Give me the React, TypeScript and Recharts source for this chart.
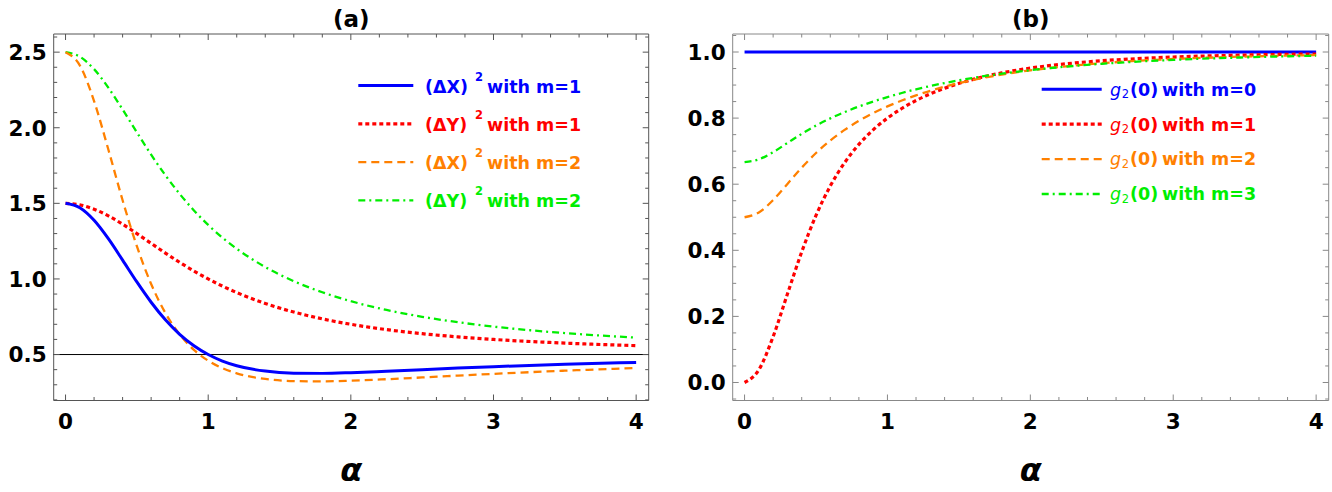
import React from 'react';
import { LineChart, Line, XAxis, YAxis, ReferenceLine, ReferenceArea, Legend } from 'recharts';

// Coherent amplitude alpha (shared horizontal axis of both panels)
const alpha = [0, 0.1, 0.2, 0.3, 0.4, 0.5, 0.6, 0.7, 0.8, 0.9, 1.0, 1.1, 1.2, 1.4, 1.6, 1.8, 2.0, 2.25, 2.5, 2.75, 3.0, 3.5, 4.0];

// Panel (a): quadrature variances
const dX1 = [1.5, 1.4705, 1.3876, 1.2659, 1.1243, 0.98, 0.846, 0.7297, 0.6338, 0.558, 0.5, 0.457, 0.4261, 0.3904, 0.3769, 0.3754, 0.38, 0.3895, 0.4001, 0.4105, 0.42, 0.4359, 0.4481];
const dY1 = [1.5, 1.4901, 1.4615, 1.4174, 1.3621, 1.3, 1.2353, 1.1711, 1.1098, 1.0525, 1.0, 0.9525, 0.9098, 0.8378, 0.7809, 0.7358, 0.7, 0.6649, 0.6379, 0.6168, 0.6, 0.5755, 0.5588];
const dX2 = [2.5, 2.4124, 2.1765, 1.8563, 1.5203, 1.2164, 0.9668, 0.7746, 0.6327, 0.5309, 0.4592, 0.4095, 0.3756, 0.3383, 0.3244, 0.3226, 0.327, 0.3367, 0.3484, 0.3605, 0.3722, 0.3932, 0.4106];
const dY2 = [2.5, 2.4705, 2.3875, 2.2651, 2.1207, 1.9694, 1.8223, 1.6857, 1.5625, 1.4532, 1.3571, 1.2731, 1.1996, 1.0789, 0.9853, 0.9117, 0.8529, 0.795, 0.7498, 0.7138, 0.6849, 0.6417, 0.6118];

// Panel (b): second-order correlation g2(0)
const g2m0 = [1, 1, 1, 1, 1, 1, 1, 1, 1, 1, 1, 1, 1, 1, 1, 1, 1, 1, 1, 1, 1, 1, 1];
const g2m1 = [0, 0.0386, 0.1389, 0.2677, 0.3951, 0.5054, 0.5946, 0.665, 0.7205, 0.7645, 0.8, 0.8291, 0.8532, 0.8904, 0.9172, 0.9368, 0.9513, 0.9643, 0.9735, 0.98, 0.9848, 0.9908, 0.9941];
const g2m2 = [0.5, 0.5145, 0.5522, 0.6009, 0.6501, 0.6943, 0.7322, 0.7643, 0.7916, 0.815, 0.8354, 0.8532, 0.8689, 0.895, 0.9155, 0.9316, 0.9444, 0.9568, 0.9662, 0.9733, 0.9788, 0.9862, 0.9908];
const g2m3 = [0.6667, 0.6752, 0.6971, 0.7248, 0.7524, 0.7773, 0.7991, 0.8182, 0.8351, 0.8502, 0.8637, 0.876, 0.887, 0.9061, 0.9217, 0.9345, 0.9451, 0.9558, 0.9642, 0.9709, 0.9762, 0.9838, 0.9888];

// Axis ticks
const xMajor = [0, 1, 2, 3, 4];
const yMajorA = [0.5, 1.0, 1.5, 2.0, 2.5];
const yMajorB = [0, 0.2, 0.4, 0.6, 0.8, 1.0];
const xTicks = Array.from({ length: 21 }, (_, i) => Math.round(i * 2) / 10);
const yTicksA = Array.from({ length: 25 }, (_, i) => (2 + i) / 10);
const yTicksB = Array.from({ length: 23 }, (_, i) => (-5 + 5 * i) / 100);

// Legend texts
const quadLabels = ['(ΔX)', '(ΔY)', '(ΔX)', '(ΔY)'];
const quadM = [1, 1, 2, 2];
const g2M = [0, 1, 2, 3];

const BLUE = '#0000ff';
const RED = '#ff0000';
const ORANGE = '#ff8000';
const GREEN = '#00ee00';

const styles = [
  { color: BLUE, width: 3, dash: undefined as string | undefined },
  { color: RED, width: 3.2, dash: '4 3' },
  { color: ORANGE, width: 2.3, dash: '8 5' },
  { color: GREEN, width: 2.3, dash: '7 4 2 4' },
];

const dataA = alpha.map((a, i) => ({ alpha: a, dX1: dX1[i], dY1: dY1[i], dX2: dX2[i], dY2: dY2[i] }));
const dataB = alpha.map((a, i) => ({ alpha: a, g0: g2m0[i], g1: g2m1[i], g2: g2m2[i], g3: g2m3[i] }));

const FONT = '"DejaVu Sans", "Liberation Sans", sans-serif';
const X_DOMAIN: [number, number] = [-0.083, 4.088];
const Y_DOMAIN_A: [number, number] = [0.196, 2.62];
const Y_DOMAIN_B: [number, number] = [-0.0545, 1.0545];
const PLOT_TOP = 34;
const PLOT_H = 366.5;
const MAJOR_LEN = 6;
const MINOR_LEN = 3.5;
const TICK_FONT = 21.5;
// axes get a 1px band so they are still drawn
const AXIS_BAND = 1;

const near = (v: number, list: number[]) => list.some((m) => Math.abs(m - v) < 1e-6);

function makeXTick(color: string) {
  return (props: any) => {
    const { x, y, payload } = props;
    const v = payload.value as number;
    const major = near(v, xMajor);
    const len = major ? MAJOR_LEN : MINOR_LEN;
    return (
      <g>
        <line x1={x} x2={x} y1={y} y2={y - len} stroke={color} strokeWidth={1} />
        <line x1={x} x2={x} y1={y - PLOT_H} y2={y - PLOT_H + len} stroke={color} strokeWidth={1} />
        {major && (
          <text x={x} y={y + 28} textAnchor="middle" fontFamily={FONT} fontWeight="bold" fontSize={TICK_FONT} fill="#000">
            {String(v)}
          </text>
        )}
      </g>
    );
  };
}

function makeYTick(color: string, majors: number[], plotW: number) {
  return (props: any) => {
    const { x, y, payload } = props;
    const v = payload.value as number;
    const major = near(v, majors);
    const len = major ? MAJOR_LEN : MINOR_LEN;
    return (
      <g>
        <line x1={x} x2={x + len} y1={y} y2={y} stroke={color} strokeWidth={1} />
        <line x1={x + plotW} x2={x + plotW - len} y1={y} y2={y} stroke={color} strokeWidth={1} />
        {major && (
          <text x={x - 7} y={y + 7.8} textAnchor="end" fontFamily={FONT} fontWeight="bold" fontSize={TICK_FONT} fill="#000">
            {v.toFixed(1)}
          </text>
        )}
      </g>
    );
  };
}

const alphaLabel = (p: any) => {
  const vb = p.viewBox || {};
  return (
    <text x={vb.x + vb.width / 2} y={481} textAnchor="middle" fontFamily={FONT} fontWeight="bold" fontStyle="italic" fontSize={32} fill="#000">
      α
    </text>
  );
};

const titleLabel = (title: string) => (p: any) => {
  const vb = p.viewBox || {};
  return (
    <text x={vb.x + vb.width / 2} y={27} textAnchor="middle" fontFamily={FONT} fontWeight="bold" fontSize={23} fill="#000">
      {title}
    </text>
  );
};

function LegendA() {
  return (
    <svg width={260} height={170} style={{ display: 'block', overflow: 'visible' }}>
      {quadLabels.map((q, i) => {
        const s = styles[i];
        const y = 25.5 + 38.3 * i;
        return (
          <g key={i} fontFamily={FONT} fontWeight="bold" fill={s.color}>
            <line x1={18.3} x2={73.3} y1={y} y2={y} stroke={s.color} strokeWidth={s.width} strokeDasharray={s.dash} />
            <text x={85} y={y + 7} fontSize={17.5}>{q}</text>
            <text x={135} y={y - 5} fontSize={11.5}>2</text>
            <text x={147} y={y + 7} fontSize={17.5}>{`with m=${quadM[i]}`}</text>
          </g>
        );
      })}
    </svg>
  );
}

function LegendB() {
  return (
    <svg width={260} height={170} style={{ display: 'block', overflow: 'visible' }}>
      {g2M.map((m, i) => {
        const s = styles[i];
        const y = 29.3 + 34.9 * i;
        return (
          <g key={i} fontFamily={FONT} fill={s.color}>
            <line x1={21.7} x2={81.7} y1={y} y2={y} stroke={s.color} strokeWidth={s.width} strokeDasharray={s.dash} />
            <text x={90} y={y + 6.3} fontSize={17.5} fontStyle="italic">g</text>
            <text x={101.7} y={y + 8.5} fontSize={11.5}>2</text>
            <text x={110} y={y + 6.3} fontSize={17.5} fontWeight="bold">(0)</text>
            <text x={142} y={y + 6.3} fontSize={17.5} fontWeight="bold">{`with m=${m}`}</text>
          </g>
        );
      })}
    </svg>
  );
}

const frameA = '#555';
const frameB = '#888';

export default function App() {
  return (
    <div style={{ position: 'absolute', left: 0, top: 0, width: 1332, height: 492, background: '#fff', fontFamily: FONT }}>
      <div style={{ position: 'absolute', left: 0, top: 0 }}>
        <LineChart width={660} height={492} data={dataA} margin={{ top: PLOT_TOP, left: 53.7 - AXIS_BAND, right: 11.3, bottom: 492 - PLOT_TOP - PLOT_H - AXIS_BAND }}>
          <XAxis
            dataKey="alpha"
            type="number"
            domain={X_DOMAIN}
            allowDataOverflow
            ticks={xTicks}
            interval={0}
            height={AXIS_BAND}
            tickSize={0}
            tickMargin={0}
            axisLine={false}
            tickLine={false}
            tick={makeXTick(frameA)}
            label={{ content: alphaLabel }}
          />
          <YAxis
            type="number"
            domain={Y_DOMAIN_A}
            allowDataOverflow
            ticks={yTicksA}
            interval={0}
            width={AXIS_BAND}
            tickSize={0}
            tickMargin={0}
            axisLine={false}
            tickLine={false}
            tick={makeYTick(frameA, yMajorA, 595)}
          />
          <ReferenceArea
            x1={X_DOMAIN[0]}
            x2={X_DOMAIN[1]}
            y1={Y_DOMAIN_A[0]}
            y2={Y_DOMAIN_A[1]}
            fill="none"
            fillOpacity={0}
            stroke={frameA}
            strokeWidth={1}
            label={{ content: titleLabel('(a)') }}
          />
          <ReferenceLine y={0.5} stroke="#000" strokeWidth={1} />
          <Line dataKey="dY2" type="monotone" stroke={GREEN} strokeWidth={styles[3].width} strokeDasharray={styles[3].dash} dot={false} activeDot={false} isAnimationActive={false} />
          <Line dataKey="dY1" type="monotone" stroke={RED} strokeWidth={styles[1].width} strokeDasharray={styles[1].dash} dot={false} activeDot={false} isAnimationActive={false} />
          <Line dataKey="dX2" type="monotone" stroke={ORANGE} strokeWidth={styles[2].width} strokeDasharray={styles[2].dash} dot={false} activeDot={false} isAnimationActive={false} />
          <Line dataKey="dX1" type="monotone" stroke={BLUE} strokeWidth={styles[0].width} dot={false} activeDot={false} isAnimationActive={false} />
          <Legend verticalAlign="middle" align="center" content={() => <LegendA />} wrapperStyle={{ left: 340, top: 60, width: 260, height: 170 }} />
        </LineChart>
      </div>
      <div style={{ position: 'absolute', left: 672, top: 0 }}>
        <LineChart width={660} height={492} data={dataB} margin={{ top: PLOT_TOP, left: 60.7 - AXIS_BAND, right: 3.3, bottom: 492 - PLOT_TOP - PLOT_H - AXIS_BAND }}>
          <XAxis
            dataKey="alpha"
            type="number"
            domain={X_DOMAIN}
            allowDataOverflow
            ticks={xTicks}
            interval={0}
            height={AXIS_BAND}
            tickSize={0}
            tickMargin={0}
            axisLine={false}
            tickLine={false}
            tick={makeXTick(frameB)}
            label={{ content: alphaLabel }}
          />
          <YAxis
            type="number"
            domain={Y_DOMAIN_B}
            allowDataOverflow
            ticks={yTicksB}
            interval={0}
            width={AXIS_BAND}
            tickSize={0}
            tickMargin={0}
            axisLine={false}
            tickLine={false}
            tick={makeYTick(frameB, yMajorB, 596)}
          />
          <ReferenceArea
            x1={X_DOMAIN[0]}
            x2={X_DOMAIN[1]}
            y1={Y_DOMAIN_B[0]}
            y2={Y_DOMAIN_B[1]}
            fill="none"
            fillOpacity={0}
            stroke={frameB}
            strokeWidth={1}
            label={{ content: titleLabel('(b)') }}
          />
          <Line dataKey="g0" type="monotone" stroke={BLUE} strokeWidth={styles[0].width} dot={false} activeDot={false} isAnimationActive={false} />
          <Line dataKey="g1" type="monotone" stroke={RED} strokeWidth={styles[1].width} strokeDasharray={styles[1].dash} dot={false} activeDot={false} isAnimationActive={false} />
          <Line dataKey="g2" type="monotone" stroke={ORANGE} strokeWidth={styles[2].width} strokeDasharray={styles[2].dash} dot={false} activeDot={false} isAnimationActive={false} />
          <Line dataKey="g3" type="monotone" stroke={GREEN} strokeWidth={styles[3].width} strokeDasharray={styles[3].dash} dot={false} activeDot={false} isAnimationActive={false} />
          <Legend verticalAlign="middle" align="center" content={() => <LegendB />} wrapperStyle={{ left: 348, top: 60, width: 260, height: 170 }} />
        </LineChart>
      </div>
    </div>
  );
}
